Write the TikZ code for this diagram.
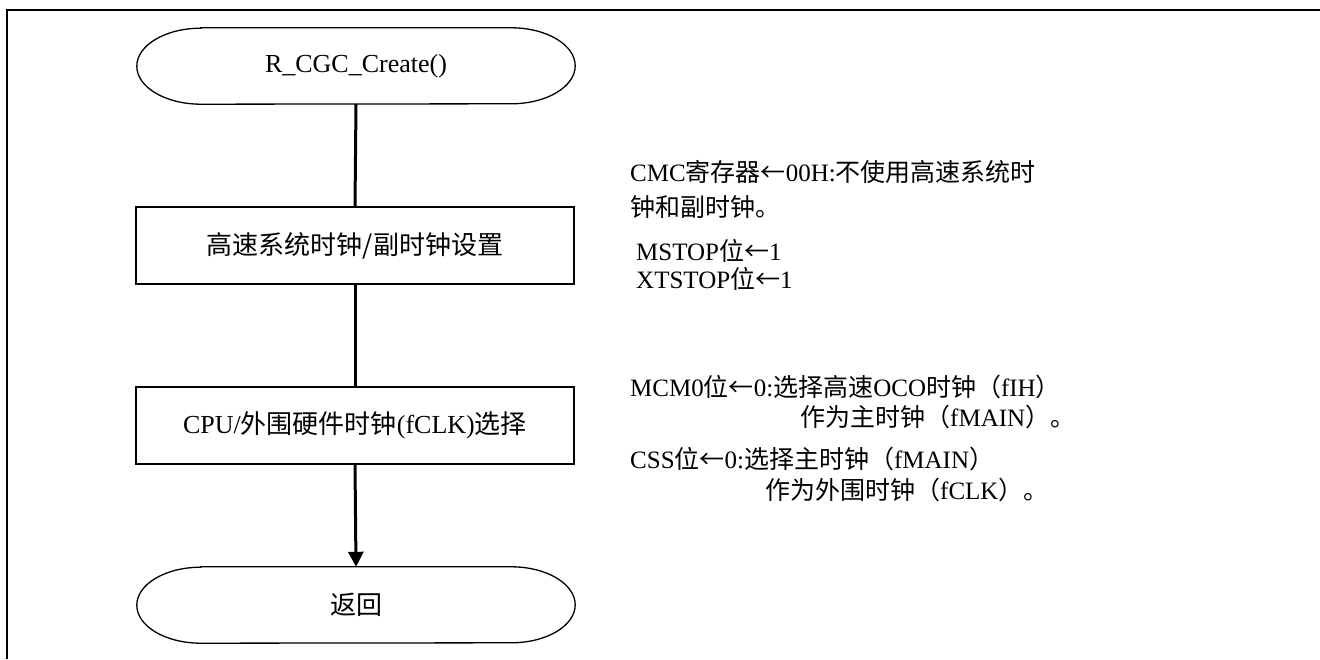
\documentclass[tikz,border=0pt]{standalone}
\usepackage{fontspec}
\setmainfont{Liberation Serif}
\newfontfamily\zhfont{Noto Sans CJK SC}
\newcommand\zh[1]{{\zhfont #1}}
\usetikzlibrary{arrows.meta}
\tikzset{
  proc/.style={draw, line width=1.3pt, minimum width=438pt, minimum height=77pt, font=\fontsize{26}{30}\selectfont},
  termtext/.style={minimum width=438pt, minimum height=76pt, font=\fontsize{26}{30}\selectfont},
  termline/.style={line width=1.3pt},
  flow/.style={line width=3pt},
  note/.style={anchor=base west, inner sep=0pt, font=\fontsize{25}{30}\selectfont},
}
\begin{document}
\begin{tikzpicture}[x=1pt,y=1pt]
\useasboundingbox (0,0) rectangle (1320,659);
\draw[line width=2.6pt] (7,0) -- (7,649) -- (1320,649);
% start terminator
\node[termtext] (start) at (356,593) {R\_CGC\_Create()};
\draw[termline] ([xshift=64pt]start.north west) -- ([xshift=-64pt]start.north east)
  arc[start angle=90, end angle=-90, x radius=64pt, y radius=38pt]
  -- ([xshift=64pt]start.south west)
  arc[start angle=270, end angle=90, x radius=64pt, y radius=38pt] -- cycle;
% process boxes
\node[proc] (p1) at (355,413.5) {\zh{高速系统时钟/副时钟设置}};
\node[proc] (p2) at (355,233.5) {CPU/\zh{外围硬件时钟}(fCLK)\zh{选择}};
% end terminator
\node[termtext] (stop) at (356,54) {\zh{返回}};
\draw[termline] ([xshift=64pt]stop.north west) -- ([xshift=-64pt]stop.north east)
  arc[start angle=90, end angle=-90, x radius=64pt, y radius=38pt]
  -- ([xshift=64pt]stop.south west)
  arc[start angle=270, end angle=90, x radius=64pt, y radius=38pt] -- cycle;
% connectors
\draw[flow] (start.south) -- (p1.north);
\draw[flow] (p1.south) -- (p2.north);
\draw[flow, -{Triangle[length=15pt, width=15pt]}] (p2.south) -- (stop.north);
% notes
\node[note] (n1) at (630,477) {CMC\zh{寄存器←}00H:\zh{不使用高速系统时}};
\node[note] (n2) at (630,442) {\zh{钟和副时钟。}};
\node[note] (n3) at (636,398) {MSTOP\zh{位←}1};
\node[note] (n4) at (636,370) {XTSTOP\zh{位←}1};
\node[note] (n5) at (630,262) {MCM0\zh{位←}0:\zh{选择高速}OCO\zh{时钟（}fIH\zh{）}};
\node[note] (n6) at (800,232) {\zh{作为主时钟（}fMAIN\zh{）。}};
\node[note] (n7) at (630,190) {CSS\zh{位←}0:\zh{选择主时钟（}fMAIN\zh{）}};
\node[note] (n8) at (765,159) {\zh{作为外围时钟（}fCLK\zh{）。}};
\end{tikzpicture}
\end{document}
